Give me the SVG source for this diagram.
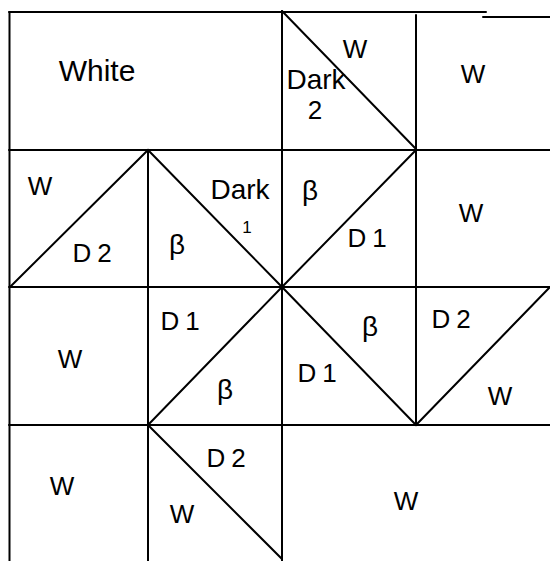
<svg xmlns="http://www.w3.org/2000/svg" width="550" height="561" viewBox="0 0 550 561">
<style>
.ln{stroke:#000;stroke-width:2;fill:none;stroke-linecap:round}
.t{font-family:"Liberation Sans Narrow","Liberation Sans",Arial,sans-serif;fill:#000;text-anchor:middle}
.s24{font-size:26px}.s22{font-size:26px}.s28{font-size:30px}.s26{font-size:28px}.s14{font-size:17px}
.sp{letter-spacing:6px}
</style>
<rect width="550" height="561" fill="#fff"/>
<g id="grid">
<path class="ln" d="M9 12 L486 12 M483 17 L550 17"/>
<path class="ln" d="M9.5 12 L9.5 561"/>
<path class="ln" d="M9 150 L550 150 M9 287 L550 287 M9 425 L550 425"/>
<path class="ln" d="M282 11 L282 561 M416 15 L416 425 M148 150 L148 561"/>
<path class="ln" d="M282 11 L416 149"/>
<path class="ln" d="M10 287 L148 150 L282 287 L416 150"/>
<path class="ln" d="M148 425 L282 287 L416 425 L550 287"/>
<path class="ln" d="M148 425 L282 559"/>
</g>
<g id="row1">
<text class="t s28" x="97" y="81">White</text>
<text class="t s22" x="355" y="58">W</text>
<text class="t s26" x="316" y="89">Dark</text>
<text class="t s22" x="315" y="119">2</text>
<text class="t s24" x="473" y="83">W</text>
</g>
<g id="row2">
<text class="t s22" x="40" y="195">W</text>
<text class="t s24 sp" x="95" y="262">D2</text>
<text class="t s26" x="177" y="254">β</text>
<text class="t s26" x="240" y="199">Dark</text>
<text class="t s14" x="247" y="233">1</text>
<text class="t s26" x="310" y="200">β</text>
<text class="t s24 sp" x="370" y="247">D1</text>
<text class="t s22" x="471" y="222">W</text>
</g>
<g id="row3">
<text class="t s24" x="70" y="368">W</text>
<text class="t s24 sp" x="183" y="330">D1</text>
<text class="t s26" x="225" y="399">β</text>
<text class="t s24 sp" x="320" y="382">D1</text>
<text class="t s26" x="370" y="336">β</text>
<text class="t s24 sp" x="454" y="328">D2</text>
<text class="t s24" x="500" y="405">W</text>
</g>
<g id="row4">
<text class="t s22" x="62" y="495">W</text>
<text class="t s24 sp" x="229" y="467">D2</text>
<text class="t s22" x="182" y="523">W</text>
<text class="t s24" x="406" y="510">W</text>
</g>
</svg>
